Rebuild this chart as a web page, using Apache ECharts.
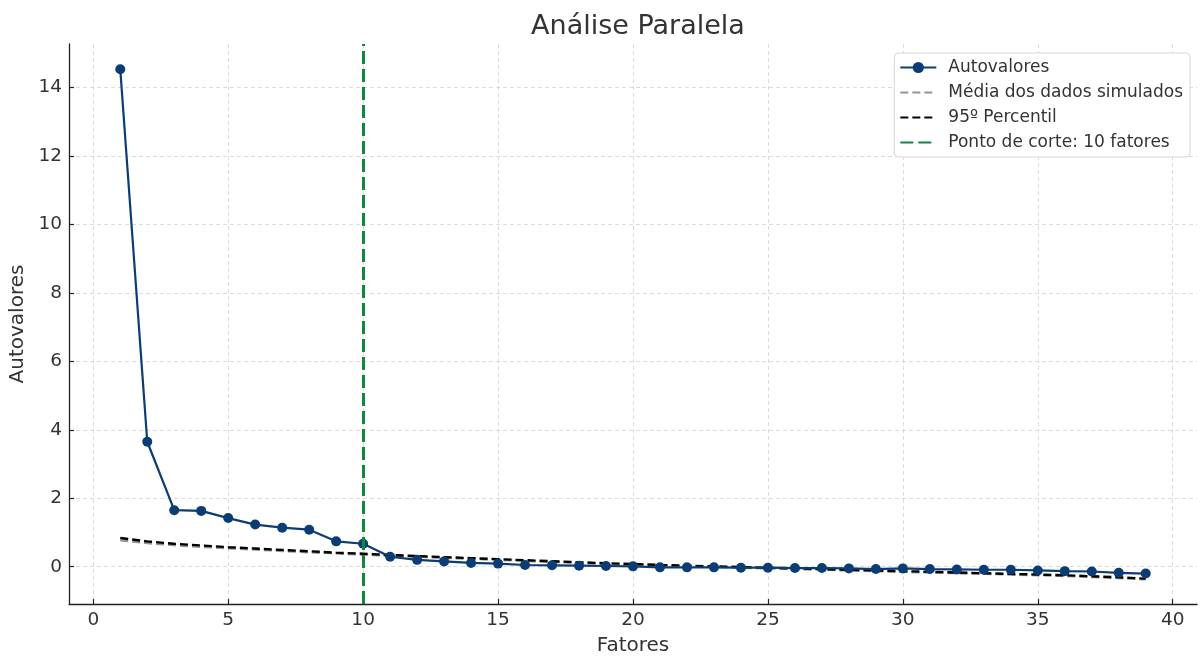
<!doctype html>
<html>
<head>
<meta charset="utf-8">
<title>Análise Paralela</title>
<script src="https://cdn.jsdelivr.net/npm/echarts@6/dist/echarts.min.js"></script>
<style>
  html, body { margin: 0; padding: 0; background: #fff; }
  #chart { width: 1200px; height: 656px; }
</style>
</head>
<body>
<div id="chart"></div>
<script>
// factors 1..39
var fatores = [1,2,3,4,5,6,7,8,9,10,11,12,13,14,15,16,17,18,19,20,
               21,22,23,24,25,26,27,28,29,30,31,32,33,34,35,36,37,38,39];
var autovalores = [14.53, 3.65, 1.65, 1.63, 1.42, 1.23, 1.14, 1.08, 0.74, 0.67,
                   0.29, 0.20, 0.155, 0.11, 0.09, 0.05, 0.04, 0.03, 0.02, 0.01,
                   -0.02, -0.02, -0.02, -0.03, -0.03, -0.04, -0.04, -0.05, -0.07, -0.05,
                   -0.07, -0.08, -0.09, -0.09, -0.11, -0.13, -0.14, -0.18, -0.20];
var mediaSimulada = [0.77, 0.69, 0.63, 0.58, 0.54, 0.50, 0.46, 0.42, 0.39, 0.35,
                     0.32, 0.29, 0.26, 0.23, 0.20, 0.17, 0.14, 0.11, 0.08, 0.06,
                     0.03, 0.01, -0.01, -0.03, -0.05, -0.07, -0.09, -0.11, -0.13, -0.15,
                     -0.17, -0.19, -0.21, -0.23, -0.25, -0.27, -0.30, -0.33, -0.37];
var percentil95 = [0.84, 0.74, 0.67, 0.62, 0.57, 0.53, 0.49, 0.45, 0.41, 0.38,
                   0.34, 0.31, 0.28, 0.25, 0.22, 0.19, 0.16, 0.13, 0.10, 0.08,
                   0.05, 0.03, 0.01, -0.01, -0.03, -0.05, -0.07, -0.09, -0.11, -0.13,
                   -0.15, -0.17, -0.19, -0.21, -0.23, -0.25, -0.28, -0.31, -0.35];
var pontoCorte = 10;
var xTicks = [0, 5, 10, 15, 20, 25, 30, 35, 40];
var yTicks = [0, 2, 4, 6, 8, 10, 12, 14];

function pares(ys) {
    return fatores.map(function (f, i) { return [f, ys[i]]; });
}

var font = 'DejaVu Sans';
var azul = '#0b3d74', cinza = '#939393', verde = '#0a8a3e';
var grade = { show: true, lineStyle: { color: '#d3d3d3', type: [4, 3], width: 0.8 } };
var chart = echarts.init(document.getElementById('chart'));

var option = {
    animation: false,
    textStyle: { fontFamily: font },
    title: {
        text: 'Análise Paralela',
        left: 633, top: 8, textAlign: 'center',
        textStyle: { fontFamily: font, fontSize: 27, fontWeight: 'normal', color: '#333' }
    },
    legend: {
        orient: 'vertical',
        right: 10, top: 53,
        itemWidth: 36, itemHeight: 14, itemGap: 8,
        padding: [6, 7, 6, 5],
        backgroundColor: '#fff',
        borderColor: '#d6d6d6', borderWidth: 1, borderRadius: 4,
        textStyle: { fontFamily: font, fontSize: 17, color: '#333', padding: [0, 0, 0, 7] },
        data: [
            { name: 'Autovalores' },
            { name: 'Média dos dados simulados', itemStyle: { opacity: 0 } },
            { name: '95º Percentil', itemStyle: { opacity: 0 } },
            { name: 'Ponto de corte: 10 fatores', itemStyle: { opacity: 0 } }
        ]
    },
    grid: { left: 69, right: 3, top: 44, bottom: 52, containLabel: false, outerBoundsMode: 'none' },
    xAxis: {
        type: 'value', min: -0.9, max: 40.9,
        name: 'Fatores', nameLocation: 'middle', nameGap: 32,
        nameTextStyle: { fontFamily: font, fontSize: 20, color: '#333' },
        axisLine: { show: true, onZero: false, lineStyle: { color: '#222', width: 1.3 } },
        axisTick: { show: true, inside: true, customValues: xTicks, length: 5, lineStyle: { color: '#222', width: 1.2 } },
        axisLabel: { customValues: xTicks, fontFamily: font, fontSize: 18.5, color: '#333', margin: 7 },
        splitLine: grade
    },
    yAxis: {
        type: 'value', min: -1.09, max: 15.27,
        name: 'Autovalores', nameLocation: 'middle', nameGap: 40,
        nameTextStyle: { fontFamily: font, fontSize: 20, color: '#333' },
        axisLine: { show: true, onZero: false, lineStyle: { color: '#222', width: 1.3 } },
        axisTick: { show: true, inside: true, customValues: yTicks, length: 5, lineStyle: { color: '#222', width: 1.2 } },
        axisLabel: { customValues: yTicks, fontFamily: font, fontSize: 18.5, color: '#333', margin: 7 },
        splitLine: grade
    },
    series: [
        {
            name: 'Média dos dados simulados',
            type: 'line',
            data: pares(mediaSimulada),
            symbol: 'none',
            itemStyle: { color: cinza },
            lineStyle: { color: cinza, width: 2.4, type: [8, 4] },
            z: 2
        },
        {
            name: '95º Percentil',
            type: 'line',
            data: pares(percentil95),
            symbol: 'none',
            itemStyle: { color: '#000' },
            lineStyle: { color: '#000', width: 2.4, type: [8, 4] },
            z: 3
        },
        {
            name: 'Autovalores',
            type: 'line',
            data: pares(autovalores),
            symbol: 'circle', symbolSize: 10,
            itemStyle: { color: azul },
            lineStyle: { color: azul, width: 2.2 },
            z: 4
        },
        {
            name: 'Ponto de corte: 10 fatores',
            type: 'line',
            data: [],
            symbol: 'none',
            itemStyle: { color: verde },
            lineStyle: { color: verde, width: 3, type: [13, 5] },
            markLine: {
                silent: true,
                symbol: ['none', 'none'],
                label: { show: false },
                lineStyle: { color: verde, width: 3, type: [13, 5] },
                data: [{ xAxis: pontoCorte }]
            },
            z: 5
        }
    ]
};
chart.setOption(option);
</script>
</body>
</html>
